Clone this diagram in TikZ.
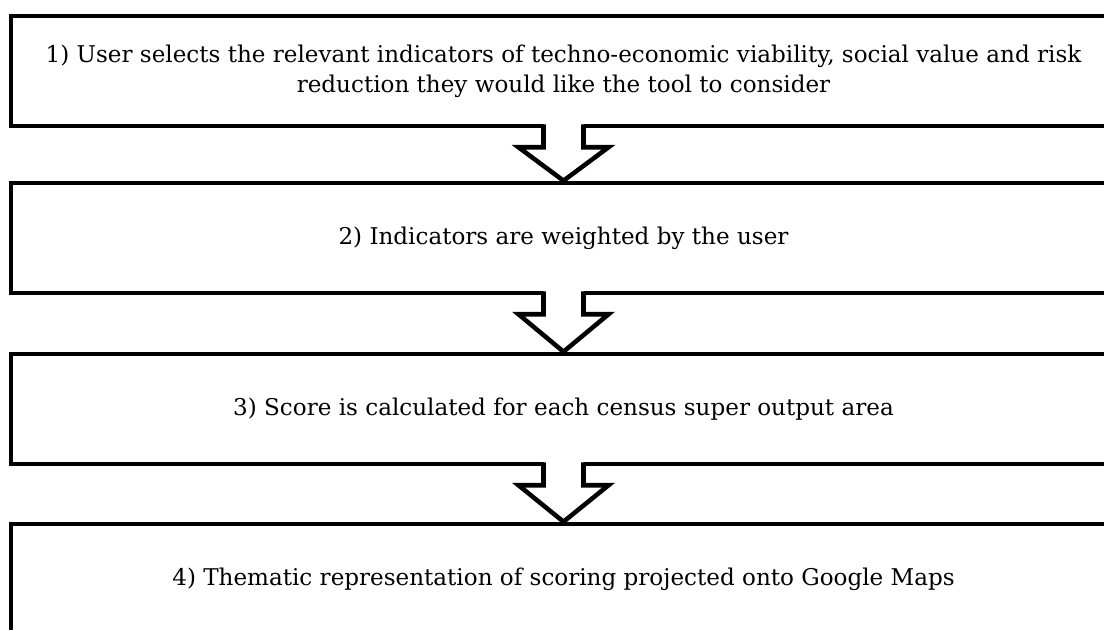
\documentclass[tikz,border=0pt]{standalone}
\usepackage{fontspec}
\setmainfont{DejaVu Serif}
\begin{document}
\begin{tikzpicture}[x=0.75pt,y=-0.75pt,
  stepbox/.style={draw=black, line width=3.4pt, fill=white, rectangle,
    minimum width=1105*0.75pt, minimum height=110*0.75pt, inner sep=0pt,
    align=center, font=\fontsize{17.3}{22.5}\selectfont},
  flowline/.style={draw=black, line width=3.4pt, line join=miter}
]
\clip (0,0) rectangle (1104,630);
\fill[white] (0,0) rectangle (1104,630);

% the four steps
\node[stepbox] (s1) at (563.5,71) {1) User selects the relevant indicators of techno-economic viability, social value and risk\\reduction they would like the tool to consider};
\node[stepbox] (s2) at (563.5,238) {2) Indicators are weighted by the user};
\node[stepbox] (s3) at (563.5,409) {3) Score is calculated for each census super output area};
\node[stepbox] (s4) at (563.5,579) {4) Thematic representation of scoring projected onto Google Maps};

% hollow block arrows from one step to the next
\foreach \a/\b in {s1/s2, s2/s3, s3/s4}{
  \path (\a.south) coordinate (top) (\b.north) coordinate (tip);
  \fill[white] ([xshift=-20*0.75pt,yshift=6pt]top) -- ([xshift=-20*0.75pt,yshift=-19*0.75pt]top)
     -- ([xshift=-45*0.75pt,yshift=-19*0.75pt]top) -- (tip)
     -- ([xshift=45*0.75pt,yshift=-19*0.75pt]top) -- ([xshift=20*0.75pt,yshift=-19*0.75pt]top)
     -- ([xshift=20*0.75pt,yshift=6pt]top) -- cycle;
  \draw[flowline] ([xshift=-20*0.75pt,yshift=3pt]top) -- ([xshift=-20*0.75pt,yshift=-19*0.75pt]top)
     -- ([xshift=-45*0.75pt,yshift=-19*0.75pt]top) -- (tip)
     -- ([xshift=45*0.75pt,yshift=-19*0.75pt]top) -- ([xshift=20*0.75pt,yshift=-19*0.75pt]top)
     -- ([xshift=20*0.75pt,yshift=3pt]top);
}
\end{tikzpicture}
\end{document}
